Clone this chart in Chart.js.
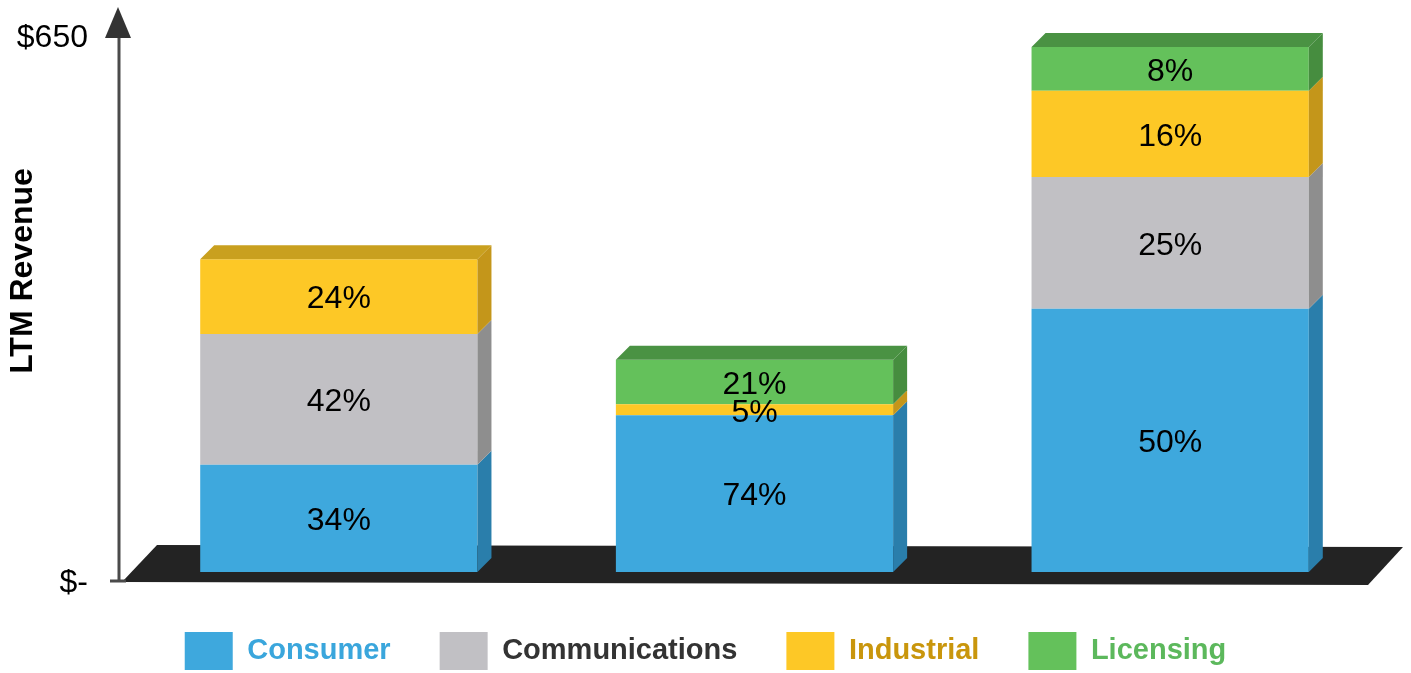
<!DOCTYPE html>
<html lang="en">
<head>
  <meta charset="UTF-8">
  <title>LTM Revenue by Segment</title>
  <script src="https://cdn.jsdelivr.net/npm/chart.js"></script>
  <style>
    html, body { margin: 0; padding: 0; background: #fff; }
    #wrap { width: 1411px; height: 673px; }
  </style>
</head>
<body>
  <div id="wrap"><canvas id="revChart" width="1411" height="673"></canvas></div>
  <script>
    // Data (LTM revenue, $M)
    const periods = ['Period 1', 'Period 2', 'Period 3'];
    const segmentNames = ['Consumer', 'Communications', 'Industrial', 'Licensing'];
    const consumer = [128, 187, 314];
    const communications = [156, 0, 157];
    const industrial = [89, 13, 103];
    const licensing = [0, 53, 52];
    const yTickValues = [0, 650];
    const yTickLabels = ['$-', '$650'];

    // Styling
    const frontColors = ['#3ea8dd', '#c1c0c4', '#fdc826', '#64c15b'];
    const sideColors = ['#2a7eab', '#8e8e8e', '#c4961a', '#468d3f'];
    const topColors = ['#2f8fc2', '#a5a5a5', '#c9a01f', '#4a9243'];
    const legendTextColors = ['#3aa6dc', '#333333', '#c9960c', '#5cb85c'];
    const depth = 14;   // 3d depth of bars
    const lift = 11;    // bars sit back on the floor
    const labelNudge = 3;
    const FONT = '"Liberation Sans", Arial, sans-serif';

    const series = [consumer, communications, industrial, licensing];

    const totals = periods.map((p, i) => series.reduce((s, arr) => s + arr[i], 0));

    // Floor, axis arrow and 3d faces
    const threeD = {
      id: 'threeD',
      beforeDatasetsDraw(chart) {
        const { ctx, scales: { y } } = chart;
        const base = y.getPixelForValue(0);
        const top = y.getPixelForValue(650);

        ctx.save();
        // floor plate
        ctx.fillStyle = '#232323';
        ctx.beginPath();
        ctx.moveTo(122, base - 1);
        ctx.lineTo(157, base - 38);
        ctx.lineTo(1403, base - 36);
        ctx.lineTo(1368, base + 2);
        ctx.closePath();
        ctx.fill();

        // value axis with arrow
        ctx.strokeStyle = '#4a4a4a';
        ctx.lineWidth = 3;
        ctx.beginPath();
        ctx.moveTo(119, base - 2);
        ctx.lineTo(119, top);
        ctx.moveTo(110, base - 2);
        ctx.lineTo(126, base - 2);
        ctx.stroke();
        ctx.fillStyle = '#333';
        ctx.beginPath();
        ctx.moveTo(118, top - 31);
        ctx.lineTo(131, top);
        ctx.lineTo(105, top);
        ctx.closePath();
        ctx.fill();
        ctx.restore();

        ctx.save();
        ctx.translate(0, -lift);
      },
      afterDatasetsDraw(chart) {
        const { ctx } = chart;
        periods.forEach((p, i) => {
          let topIdx = -1;
          series.forEach((arr, d) => { if (arr[i] > 0) topIdx = d; });
          series.forEach((arr, d) => {
            if (!arr[i]) return;
            const el = chart.getDatasetMeta(d).data[i];
            const { x, y, base, width } = el.getProps(['x', 'y', 'base', 'width'], true);
            const left = x - width / 2;
            const right = x + width / 2;

            ctx.fillStyle = sideColors[d];
            ctx.beginPath();
            ctx.moveTo(right, y);
            ctx.lineTo(right + depth, y - depth);
            ctx.lineTo(right + depth, base - depth);
            ctx.lineTo(right, base);
            ctx.closePath();
            ctx.fill();

            if (d === topIdx) {
              ctx.fillStyle = topColors[d];
              ctx.beginPath();
              ctx.moveTo(left, y);
              ctx.lineTo(left + depth, y - depth);
              ctx.lineTo(right + depth, y - depth);
              ctx.lineTo(right, y);
              ctx.closePath();
              ctx.fill();
            }

            // percentage label
            ctx.fillStyle = '#000';
            ctx.font = '32px ' + FONT;
            ctx.textAlign = 'center';
            ctx.textBaseline = 'middle';
            const pct = Math.round(arr[i] / totals[i] * 100);
            ctx.fillText(pct + '%', x, (y + base) / 2 + labelNudge);
          });
        });
        ctx.restore();
      },
      afterDraw(chart) {
        const { ctx } = chart;
        ctx.save();
        ctx.translate(23, 271);
        ctx.rotate(-Math.PI / 2);
        ctx.fillStyle = '#000';
        ctx.font = 'bold 32px ' + FONT;
        ctx.textAlign = 'center';
        ctx.textBaseline = 'middle';
        ctx.fillText('LTM Revenue', 0, 0);
        ctx.restore();
      }
    };

    const revChart = new Chart(document.getElementById('revChart'), {
      type: 'bar',
      data: {
        labels: periods,
        datasets: series.map((arr, d) => ({
          label: segmentNames[d],
          data: arr,
          backgroundColor: frontColors[d],
          borderWidth: 0,
          barPercentage: 0.667,
          categoryPercentage: 1,
        })),
      },
      options: {
        responsive: false,
        animation: false,
        events: [],
        devicePixelRatio: 1,
        layout: { padding: { top: 38, right: 0, left: 0, bottom: -7 } },
        scales: {
          x: { stacked: true, display: false },
          y: {
            stacked: true,
            min: 0,
            max: 650,
            afterFit: (s) => { s.width = 131; s.paddingTop = 0; s.paddingBottom = 0; },
            afterBuildTicks: (s) => { s.ticks = yTickValues.map(v => ({ value: v })); },
            ticks: {
              padding: 43,
              color: '#000',
              font: { size: 32, family: FONT },
              callback: (v) => yTickLabels[yTickValues.indexOf(v)],
            },
            grid: { display: false, drawTicks: false },
            border: { display: false },
          },
          // empty right margin so the legend centres on the page
          yRight: {
            position: 'right',
            ticks: { display: false },
            grid: { display: false, drawTicks: false },
            border: { display: false },
            afterFit: (s) => { s.width = 33; s.paddingTop = 0; s.paddingBottom = 0; },
          },
        },
        plugins: {
          tooltip: { enabled: false },
          legend: {
            position: 'bottom',
            labels: {
              boxWidth: 48,
              boxHeight: 38,
              padding: 49,
              font: { size: 29, weight: 'bold', family: FONT },
              generateLabels: (chart) => segmentNames.map((name, d) => ({
                text: name,
                fillStyle: frontColors[d],
                strokeStyle: frontColors[d],
                lineWidth: 0,
                fontColor: legendTextColors[d],
                hidden: false,
                datasetIndex: d,
              })),
            },
          },
        },
      },
      plugins: [threeD],
    });
  </script>
</body>
</html>
